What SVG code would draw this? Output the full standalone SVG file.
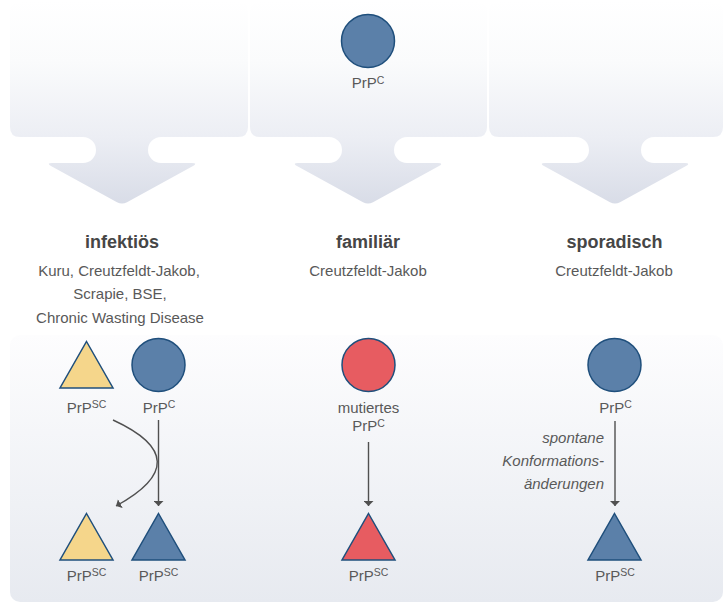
<svg xmlns="http://www.w3.org/2000/svg" width="725" height="608" viewBox="0 0 725 608">
<defs>
<linearGradient id="gTop" gradientUnits="userSpaceOnUse" x1="0" y1="0" x2="0" y2="205">
<stop offset="0" stop-color="#ffffff"/>
<stop offset="0.3" stop-color="#fafbfc"/>
<stop offset="0.67" stop-color="#eceef4"/>
<stop offset="1" stop-color="#d8dce7"/>
</linearGradient>
<linearGradient id="gBot" gradientUnits="userSpaceOnUse" x1="0" y1="335" x2="0" y2="602">
<stop offset="0" stop-color="#fdfdfe"/>
<stop offset="1" stop-color="#e7eaf0"/>
</linearGradient>
<marker id="ah" viewBox="0 0 5 10" refX="5" refY="5" markerWidth="5" markerHeight="10" markerUnits="userSpaceOnUse" orient="auto">
<path d="M0,0 L5,5 L0,10 Z" fill="#505050"/>
</marker>
</defs>
<style>
text{font-family:"Liberation Sans",Arial,sans-serif;fill:#595959;font-size:15px;text-anchor:middle}
.title{font-weight:bold;font-size:18px;fill:#464646}
.sup{font-size:10.5px}
.it{font-style:italic;text-anchor:end}
.blue{fill:#5b80a9;stroke:#1f4f7c;stroke-width:1.5}
.yel{fill:#f5d68b;stroke:#1f4f7c;stroke-width:1.5}
.red{fill:#e75c61;stroke:#1f4f7c;stroke-width:1.5}
.con{fill:none;stroke:#505050;stroke-width:1.4;marker-end:url(#ah)}
</style>
<rect width="725" height="608" fill="#ffffff"/>
<g id="background">
<path fill="url(#gTop)" d="M20,2 H238 Q248,2 248,12 V127 Q248,137 238,137 H161 A13,13 0 0 0 161,163 H192 Q198,163 193,166 L127,202.2 Q122,205 117,202.2 L51,166 Q46,163 52,163 H83 A13,13 0 0 0 83,137 H20 Q10,137 10,127 V12 Q10,2 20,2 Z"/>
<path fill="url(#gTop)" d="M260,2 H477 Q487,2 487,12 V127 Q487,137 477,137 H407 A13,13 0 0 0 407,163 H438 Q444,163 439,166 L373,202.2 Q368,205 363,202.2 L297,166 Q292,163 298,163 H329 A13,13 0 0 0 329,137 H260 Q250,137 250,127 V12 Q250,2 260,2 Z"/>
<path fill="url(#gTop)" d="M499,2 H713 Q723,2 723,12 V127 Q723,137 713,137 H654 A13,13 0 0 0 654,163 H685 Q691,163 686,166 L620,202.2 Q615,205 610,202.2 L544,166 Q539,163 545,163 H576 A13,13 0 0 0 576,137 H499 Q489,137 489,127 V12 Q489,2 499,2 Z"/>
<rect x="10" y="335" width="713" height="267" rx="10" fill="url(#gBot)"/>
</g>
<g id="top-prpc">
<circle class="blue" cx="368" cy="41" r="26.5"/>
<text x="368" y="88">PrP<tspan class="sup" dy="-4.5">C</tspan></text>
</g>
<g id="head-infektioes">
<text class="title" x="122" y="248">infektiös</text>
<text x="119" y="275.5">Kuru, Creutzfeldt-Jakob,</text>
<text x="120" y="299">Scrapie, BSE,</text>
<text x="120" y="322.5">Chronic Wasting Disease</text>
</g>
<g id="head-familiaer">
<text class="title" x="368" y="248">familiär</text>
<text x="368" y="275.5">Creutzfeldt-Jakob</text>
</g>
<g id="head-sporadisch">
<text class="title" x="614.5" y="248">sporadisch</text>
<text x="614" y="275.5">Creutzfeldt-Jakob</text>
</g>
<g id="inf-prpsc-top">
<polygon class="yel" points="86.5,341.5 113,388 60,388"/>
<text x="86.5" y="412.5">PrP<tspan class="sup" dy="-4.5">SC</tspan></text>
</g>
<g id="inf-prpc">
<circle class="blue" cx="158.5" cy="365" r="26.5"/>
<text x="159" y="412.5">PrP<tspan class="sup" dy="-4.5">C</tspan></text>
</g>
<g id="inf-prpsc-yellow">
<polygon class="yel" points="86.5,513.5 113,560 60,560"/>
<text x="86.5" y="580.5">PrP<tspan class="sup" dy="-4.5">SC</tspan></text>
</g>
<g id="inf-prpsc-blue">
<polygon class="blue" points="158.5,513.5 185,560 132,560"/>
<text x="158.5" y="580.5">PrP<tspan class="sup" dy="-4.5">SC</tspan></text>
</g>
<g id="fam-prpc">
<circle class="red" cx="368.5" cy="365" r="26.5"/>
<text x="368.5" y="413">mutiertes</text>
<text x="368.5" y="431">PrP<tspan class="sup" dy="-4.5">C</tspan></text>
</g>
<g id="fam-prpsc">
<polygon class="red" points="368.5,513.5 395,560 342,560"/>
<text x="368.5" y="580.5">PrP<tspan class="sup" dy="-4.5">SC</tspan></text>
</g>
<g id="spor-prpc">
<circle class="blue" cx="614.5" cy="365" r="26.5"/>
<text x="615.5" y="412.5">PrP<tspan class="sup" dy="-4.5">C</tspan></text>
</g>
<g id="spor-prpsc">
<polygon class="blue" points="614.5,513.5 641,560 588,560"/>
<text x="615" y="580.5">PrP<tspan class="sup" dy="-4.5">SC</tspan></text>
</g>
<g id="connectors">
<path class="con" d="M113,420 Q200,460 116,506"/>
<line class="con" x1="158.5" y1="420" x2="158.5" y2="506"/>
<line class="con" x1="368.5" y1="442" x2="368.5" y2="506"/>
<line class="con" x1="615" y1="421" x2="615" y2="506"/>
<text class="it" x="604" y="443">spontane</text>
<text class="it" x="604" y="466">Konformations-</text>
<text class="it" x="604" y="489">änderungen</text>
</g>
</svg>
